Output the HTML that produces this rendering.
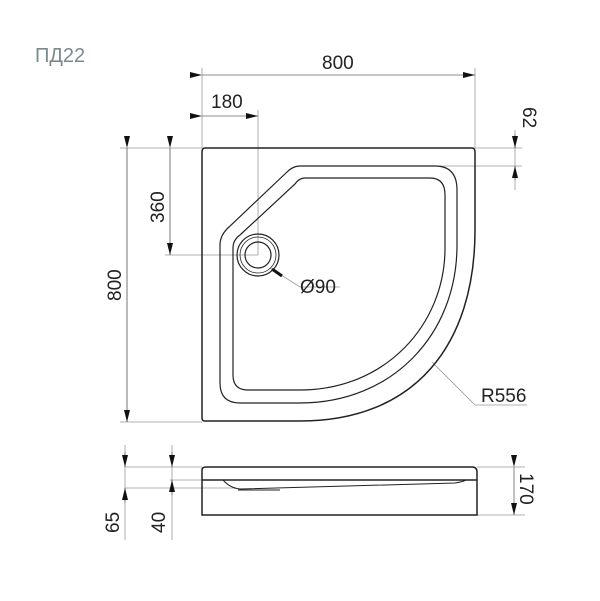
<!DOCTYPE html>
<html><head><meta charset="utf-8"><style>
html,body{margin:0;padding:0;background:#fff;}
svg{display:block}
text{font-family:"Liberation Sans",sans-serif;fill:#222;}
</style></head><body>
<svg width="600" height="601" viewBox="0 0 600 601" xmlns="http://www.w3.org/2000/svg">
<defs>
<marker id="a" viewBox="0 0 12 6" refX="12" refY="3" markerWidth="12" markerHeight="6" orient="auto" markerUnits="userSpaceOnUse"><path d="M0,0L12,3L0,6z" fill="#111"/></marker>
</defs>
<text x="35" y="62" font-size="20" style="fill:#7a8a90">ПД22</text>
<g stroke="#999" stroke-width="0.8" fill="none">
<line x1="202" y1="68" x2="202" y2="148"/><line x1="475" y1="68" x2="475" y2="148"/>
<line x1="258" y1="110" x2="258" y2="255"/>
<line x1="475" y1="148" x2="522" y2="148"/><line x1="440" y1="166" x2="522" y2="166"/>
<line x1="120" y1="148" x2="202" y2="148"/><line x1="120" y1="422" x2="202" y2="422"/>
<line x1="165" y1="255" x2="258" y2="255"/>
<line x1="127" y1="148" x2="127" y2="422"/><line x1="170" y1="148" x2="170" y2="255"/>
<line x1="515" y1="130" x2="515" y2="190"/>
<polyline points="270,268 300,287 340,287"/>
<polyline points="432,362 475,405 527,405"/>
<line x1="125" y1="467" x2="202" y2="467"/><line x1="125" y1="488" x2="235" y2="488"/><line x1="170" y1="480" x2="202" y2="480"/>
<line x1="125" y1="445" x2="125" y2="540"/><line x1="172" y1="445" x2="172" y2="540"/>
<line x1="477" y1="467" x2="525" y2="467"/><line x1="477" y1="515" x2="525" y2="515"/>
</g>
<g stroke="#666" stroke-width="0.8" fill="none">
<line x1="202" y1="75" x2="475" y2="75" marker-start="url(#a)" marker-end="url(#a)"/>
<line x1="202" y1="116" x2="258" y2="116" marker-start="url(#a)" marker-end="url(#a)"/>
<line x1="127" y1="148" x2="127" y2="422" marker-start="url(#a)" marker-end="url(#a)"/>
<line x1="170" y1="148" x2="170" y2="255" marker-start="url(#a)" marker-end="url(#a)"/>
<line x1="515" y1="134" x2="515" y2="148" marker-end="url(#a)"/>
<line x1="515" y1="180" x2="515" y2="166" marker-end="url(#a)"/>
<line x1="125" y1="452" x2="125" y2="467" marker-end="url(#a)"/>
<line x1="125" y1="503" x2="125" y2="488" marker-end="url(#a)"/>
<line x1="172" y1="452" x2="172" y2="467" marker-end="url(#a)"/>
<line x1="172" y1="495" x2="172" y2="480" marker-end="url(#a)"/>
<line x1="514" y1="467" x2="514" y2="515" marker-start="url(#a)" marker-end="url(#a)"/>
</g>
<line x1="272" y1="269" x2="282" y2="276" stroke="#111" stroke-width="3"/>
<g stroke="#222" stroke-width="1.5" fill="none">
<path d="M205,148 L472,148 Q475,148 475,152 L475,230 C475,345 415,421 300,421 L205,421 Q202,421 202,418 L202,152 Q202,148 205,148Z"/>
<path d="M300,166 L435,166 Q457,166 457,190 L457,245 C457,335 392,403 300,403 L240,403 Q220,403 220,383 L220,245 Q220,235 229,227 L287,172 Q293,166 300,166Z" stroke-width="1.2"/>
<path d="M305,178 L430,178 Q445,178 445,195 L445,248 C445,325 385,390 300,390 L248,390 Q233,390 233,375 L233,248 Q233,240 240,235 L295,184 Q299,178 305,178Z" stroke-width="1.2"/>
<circle cx="258" cy="255" r="21" stroke-width="1.2"/>
<circle cx="258" cy="255" r="18" stroke-width="0.8"/>
<circle cx="258" cy="255" r="13" stroke-width="1.2"/>
<path d="M202,515 L202,470 Q202,467 206,467 L472,467 Q477,467 477,472 L477,515 Z"/>
<line x1="202" y1="480" x2="477" y2="480"/>
<path d="M223,480 Q230,488 240,489 L455,483 Q462,482 466,480" stroke-width="1"/>
<path d="M238,490 L280,490" stroke-width="1"/>
</g>
<text x="322" y="69" font-size="19">800</text>
<text x="211" y="108" font-size="19">180</text>
<text x="300" y="293" font-size="19">Ø90</text>
<text x="481" y="402" font-size="19">R556</text>
<text transform="translate(121,301) rotate(-90)" font-size="19">800</text>
<text transform="translate(164,223) rotate(-90)" font-size="19">360</text>
<text transform="translate(523,107) rotate(90)" font-size="19">62</text>
<text transform="translate(520,473) rotate(90)" font-size="19">170</text>
<text transform="translate(119,533) rotate(-90)" font-size="19">65</text>
<text transform="translate(165,533) rotate(-90)" font-size="19">40</text>
</svg>
</body></html>
